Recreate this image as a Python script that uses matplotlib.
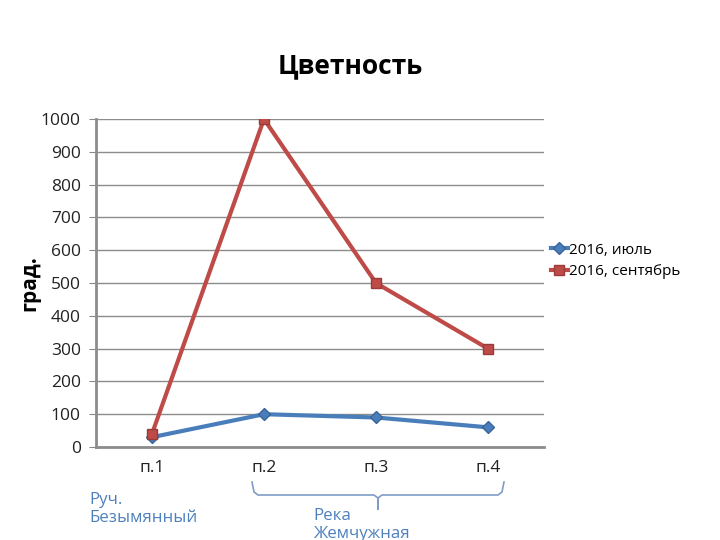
import matplotlib.pyplot as plt
from matplotlib.lines import Line2D

plt.rcParams['font.family'] = ['Open Sans', 'DejaVu Sans']

points = ["п.1", "п.2", "п.3", "п.4"]
july = [30, 100, 90, 60]
september = [40, 1000, 500, 300]
yticks = list(range(0, 1001, 100))

fig = plt.figure(figsize=(7.2, 5.4), dpi=100)
ax = fig.add_axes([0.1333, 0.1722, 0.6222, 0.6074])

x = range(len(points))
ax.plot(x, july, color="#4A7EBB", lw=3, marker="D", ms=6,
        mfc="#4A7EBB", mec="#3A6599", label="2016, июль", zorder=3)
ax.plot(x, september, color="#BE4B48", lw=3, marker="s", ms=7,
        mfc="#BE4B48", mec="#9B3B39", label="2016, сентябрь", zorder=4)

ax.set_xlim(-0.5, 3.5)
ax.set_ylim(0, 1000)
ax.set_yticks(yticks)
ax.set_xticks(list(x))
ax.set_xticklabels(points)
ax.tick_params(axis='x', length=0, labelsize=12.5, pad=9, colors="#222222")
ax.tick_params(axis='y', length=5, color="#888888", labelsize=12.5, pad=6,
               labelcolor="#222222")
ax.grid(axis='y', color="#8c8c8c", lw=1)
ax.set_axisbelow(True)
for s in ["top", "right"]:
    ax.spines[s].set_visible(False)
for s in ["left", "bottom"]:
    ax.spines[s].set_color("#8c8c8c")
    ax.spines[s].set_linewidth(2)

ax.set_ylabel("град.", fontsize=15, fontweight="bold", labelpad=0)
fig.text(0.486, 0.878, "Цветность", ha="center", va="center",
         fontsize=19, fontweight="bold")

ax.legend(loc="center left", bbox_to_anchor=(0.985, 0.567), frameon=False,
          fontsize=11, handlelength=1.1, handletextpad=0.05,
          labelspacing=0.45)

# bracket under п.2 - п.4
W, H = 720, 540
bc = "#7F9CC4"
def fx(px):
    return px / W
def fy(py):
    return 1 - py / H
bx = [252, 254, 258, 374, 378, 378, 378, 382, 498, 502, 504]
by = [482, 492, 495, 495, 498, 509, 498, 495, 495, 492, 482]
fig.add_artist(Line2D([fx(v) for v in bx], [fy(v) for v in by],
                      color=bc, lw=1.2))

fig.text(fx(89), fy(509), "Руч.\nБезымянный", color="#4F81BD",
         fontsize=12.2, ha="left", va="center", linespacing=1.25)
fig.text(fx(313), fy(525), "Река\nЖемчужная", color="#4F81BD",
         fontsize=12.2, ha="left", va="center", linespacing=1.25)

fig.savefig("out.png", dpi=100)
